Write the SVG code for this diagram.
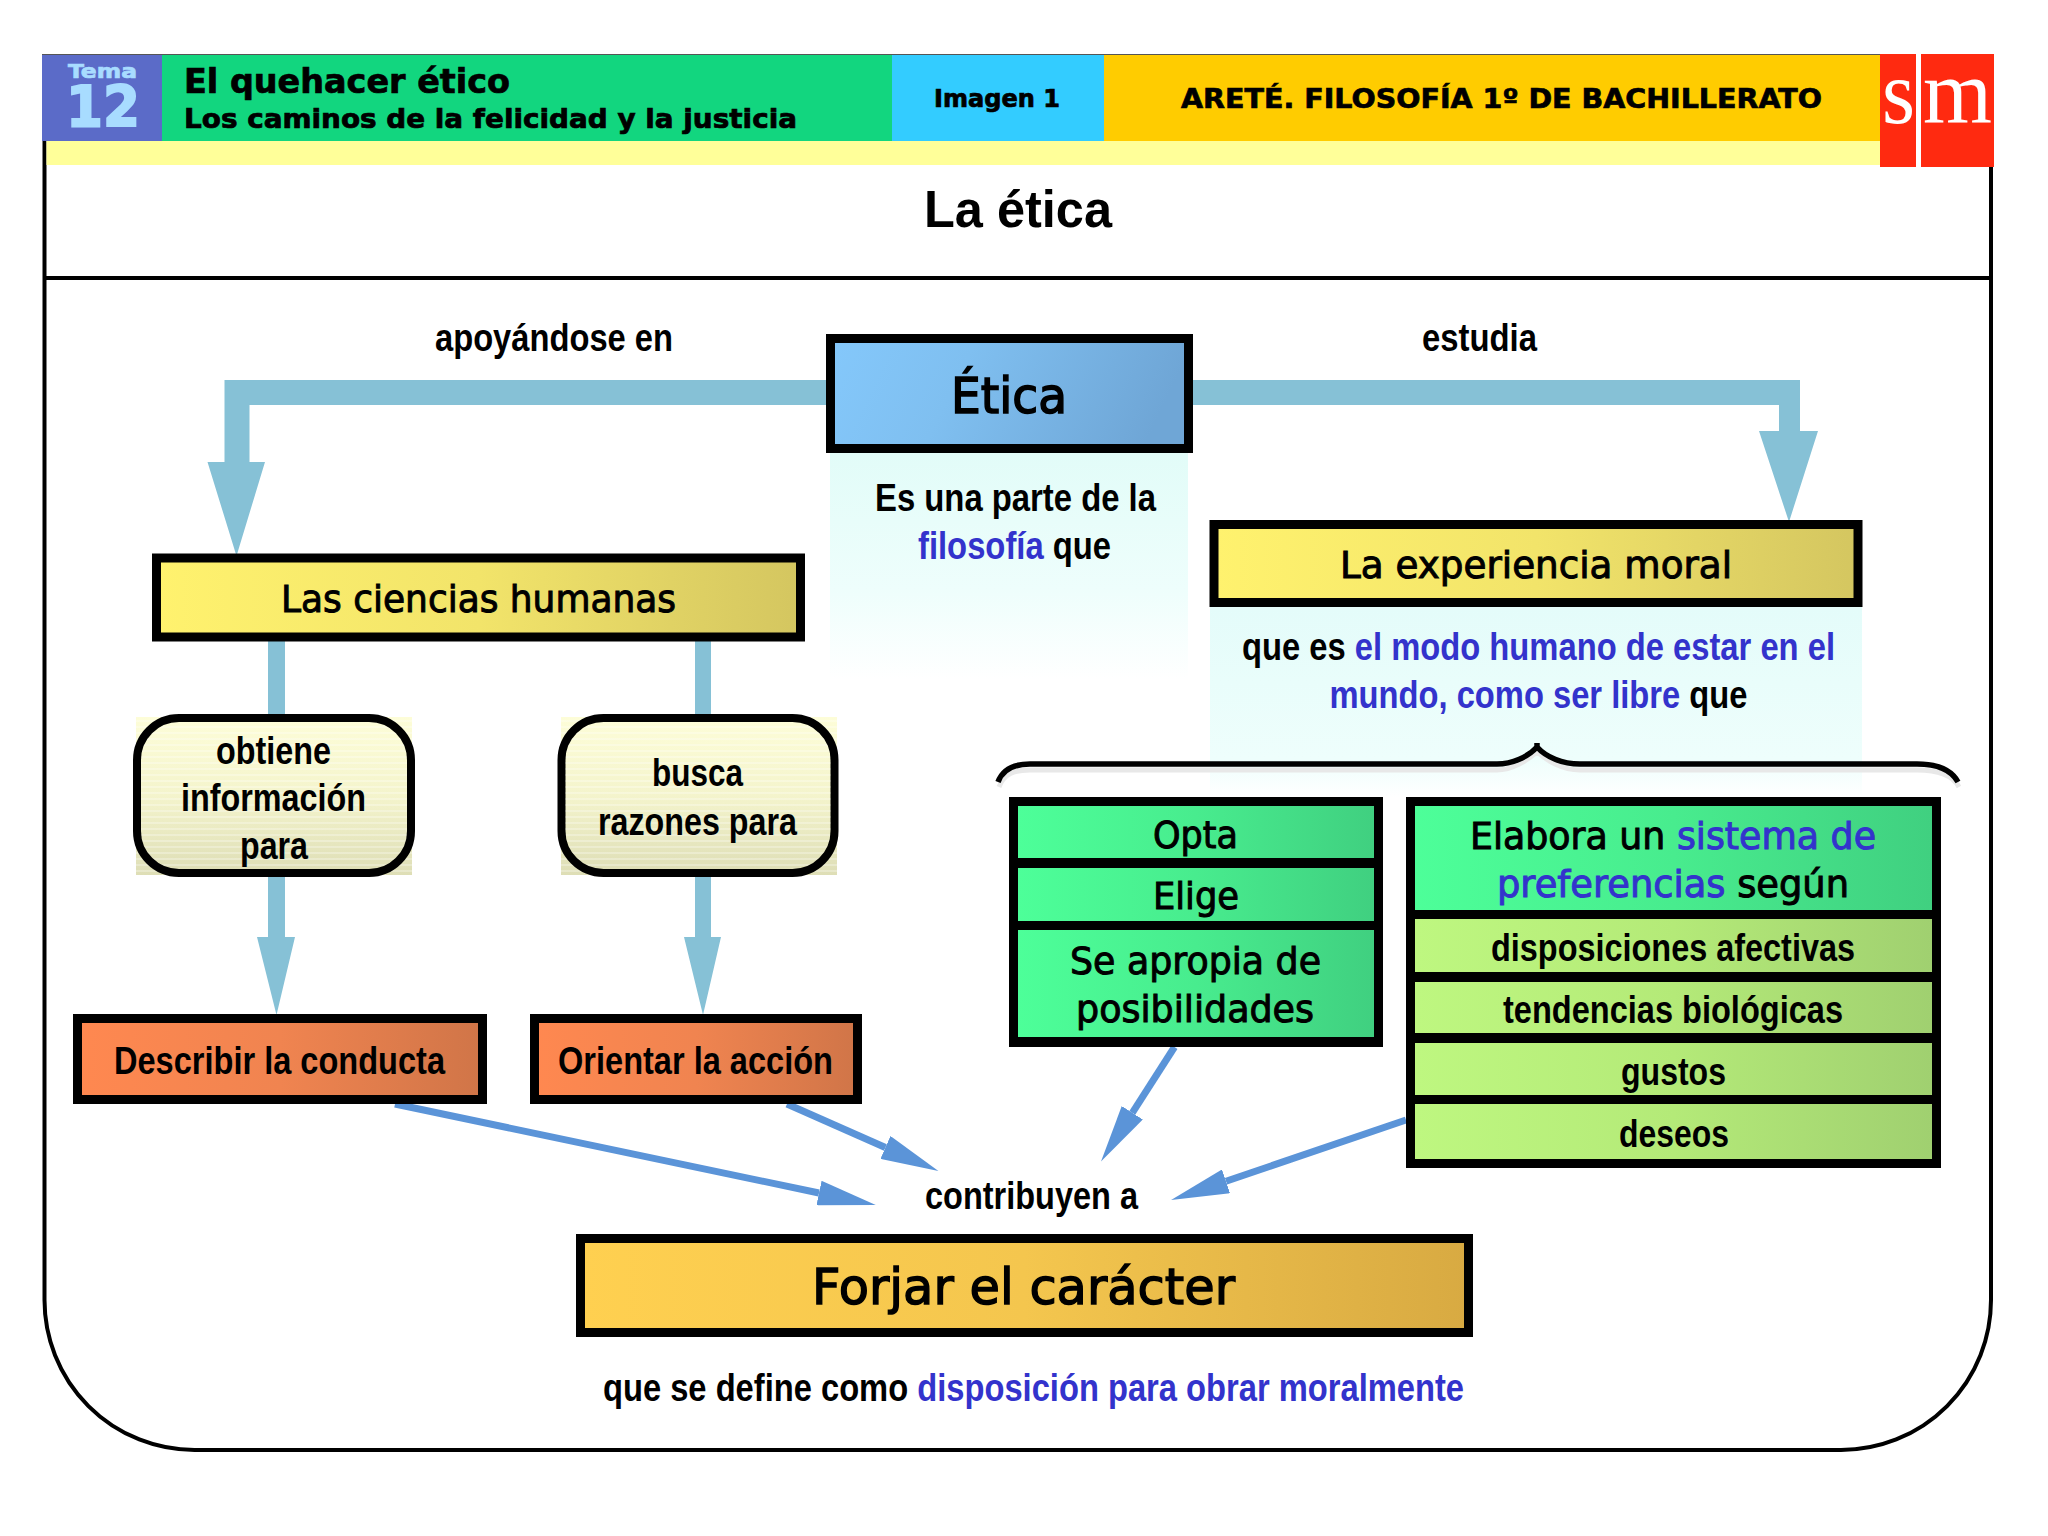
<svg xmlns="http://www.w3.org/2000/svg" width="2048" height="1536" viewBox="0 0 2048 1536">
<style>
text{fill:#000}
.h{font-family:"DejaVu Sans",sans-serif;font-weight:700;stroke:#000;stroke-width:.7}
.b{font-family:"Liberation Sans",Arial,sans-serif;font-weight:700}
.t{font-family:"DejaVu Sans",sans-serif;font-weight:400;stroke:#000;stroke-width:1}
.blue{fill:#3333cc}
.t .blue{stroke:#3333cc}
.box{stroke:#000;stroke-width:9}
.cyan{fill:#86c1d6}
.bl{stroke:#5b94d8;stroke-width:7;fill:none;marker-end:url(#ah)}
</style>
<defs>
<linearGradient id="gE" x1="0" y1="0" x2="1" y2=".15"><stop offset="0" stop-color="#84c8fb"/><stop offset=".4" stop-color="#7fbff0"/><stop offset="1" stop-color="#6fa6d6"/></linearGradient>
<linearGradient id="gY" x1="0" x2="1" y1="0" y2="0"><stop offset="0" stop-color="#fff26e"/><stop offset=".5" stop-color="#f2e46a"/><stop offset="1" stop-color="#d4c660"/></linearGradient>
<linearGradient id="gO" x1="0" x2="1" y1="0" y2="0"><stop offset="0" stop-color="#ff8850"/><stop offset=".5" stop-color="#f08450"/><stop offset="1" stop-color="#d07548"/></linearGradient>
<linearGradient id="gF" x1="0" x2="1" y1="0" y2="0"><stop offset="0" stop-color="#ffd050"/><stop offset=".5" stop-color="#f4c64e"/><stop offset="1" stop-color="#d8aa42"/></linearGradient>
<linearGradient id="gG" x1="0" x2="1" y1="0" y2="0"><stop offset="0" stop-color="#4dff99"/><stop offset=".5" stop-color="#48ec8e"/><stop offset="1" stop-color="#40d080"/></linearGradient>
<linearGradient id="gL" x1="0" x2="1" y1="0" y2="0"><stop offset="0" stop-color="#bef780"/><stop offset=".5" stop-color="#b4ea78"/><stop offset="1" stop-color="#a0d070"/></linearGradient>
<linearGradient id="gC" x1="0" x2="0" y1="0" y2="1"><stop offset="0" stop-color="#fdfdd8"/><stop offset=".5" stop-color="#f4f4cc"/><stop offset="1" stop-color="#dedeb6"/></linearGradient>
<linearGradient id="gP" x1="0" x2="0" y1="0" y2="1"><stop offset="0" stop-color="#e2fcf8"/><stop offset=".6" stop-color="#eefefc"/><stop offset="1" stop-color="#ffffff"/></linearGradient>
<linearGradient id="gQ" x1="0" x2="0" y1="0" y2="1"><stop offset="0" stop-color="#e4fcfa"/><stop offset=".8" stop-color="#eefefc"/><stop offset="1" stop-color="#ffffff"/></linearGradient>
<pattern id="stripes" width="6" height="6" patternUnits="userSpaceOnUse"><rect width="6" height="2" fill="#ffffff" fill-opacity=".28"/></pattern>
<marker id="ah" markerUnits="userSpaceOnUse" markerWidth="58" markerHeight="25" viewBox="0 0 58 25" refX="0" refY="12.5" orient="auto"><path d="M0,0 L58,12.5 L0,25 Z" fill="#5b94d8"/></marker>
</defs>

<g id="frame">
<path d="M44.5,141 V1300 A150,150 0 0 0 194.5,1450 H1841 A150,150 0 0 0 1991,1300 V141" fill="#fff" stroke="#000" stroke-width="4"/>
<line x1="44.5" y1="278" x2="1991" y2="278" stroke="#000" stroke-width="4"/>
</g>

<g id="header">
<rect x="46.5" y="141" width="1833.5" height="24" fill="#ffff99"/>
<rect x="42" y="54" width="1838" height="2" fill="#555"/>
<rect x="42" y="55" width="120" height="86" fill="#5b6bc8"/>
<rect x="162" y="55" width="730" height="86" fill="#12d67f"/>
<rect x="892" y="55" width="212" height="86" fill="#33ccff"/>
<rect x="1104" y="55" width="776" height="86" fill="#ffcc00"/>
<text class="h" x="68" y="78" font-size="20" textLength="69" lengthAdjust="spacingAndGlyphs" style="fill:#a8dcff;stroke:#a8dcff">Tema</text>
<text class="h" x="66" y="127" font-size="57" textLength="74" lengthAdjust="spacingAndGlyphs" style="fill:#a8dcff;stroke:#a8dcff;stroke-width:2">12</text>
<text class="h" x="184" y="92.5" font-size="33" textLength="326" lengthAdjust="spacingAndGlyphs">El quehacer ético</text>
<text class="h" x="184" y="128" font-size="26" textLength="613" lengthAdjust="spacingAndGlyphs">Los caminos de la felicidad y la justicia</text>
<text class="h" x="934" y="107" font-size="24" textLength="126" lengthAdjust="spacingAndGlyphs">Imagen 1</text>
<text class="h" x="1181" y="108" font-size="27" textLength="641" lengthAdjust="spacingAndGlyphs">ARETÉ. FILOSOFÍA 1º DE BACHILLERATO</text>
</g>

<g id="logo">
<rect x="1880" y="54" width="36" height="113" fill="#ff2a10"/>
<rect x="1921" y="54" width="73" height="113" fill="#ff2a10"/>
<text x="1882" y="123" font-family="'Liberation Serif',serif" font-size="92" textLength="33" lengthAdjust="spacingAndGlyphs" style="fill:#fff">s</text>
<text x="1923" y="123" font-family="'Liberation Serif',serif" font-size="92" textLength="69" lengthAdjust="spacingAndGlyphs" style="fill:#fff">m</text>
</g>

<text id="title" class="b" x="924" y="227" font-size="52" textLength="188" lengthAdjust="spacingAndGlyphs">La ética</text>

<g id="panels">
<rect x="830" y="453" width="358" height="227" fill="url(#gP)"/>
<rect x="1210" y="607" width="652" height="190" fill="url(#gQ)"/>
</g>

<g id="connectors">
<polygon class="cyan" points="826,380 224.5,380 224.5,462 207.5,462 236.5,556 265,462 249.5,462 249.5,405 826,405"/>
<polygon class="cyan" points="1193,380 1800,380 1800,431 1818,431 1789,522 1759,431 1779,431 1779,405 1193,405"/>
<rect class="cyan" x="268" y="641" width="17" height="73"/>
<rect class="cyan" x="695" y="641" width="16" height="73"/>
<polygon class="cyan" points="268,877 285,877 285,937 295,937 276.5,1015 257,937 268,937"/>
<polygon class="cyan" points="695,877 711,877 711,937 721,937 703,1015 684,937 695,937"/>
<line class="bl" x1="395" y1="1104" x2="819" y2="1193"/>
<line class="bl" x1="787" y1="1104" x2="885.4" y2="1147.5"/>
<line class="bl" x1="1174.5" y1="1047" x2="1132.3" y2="1112.8"/>
<line class="bl" x1="1406" y1="1120" x2="1226" y2="1181.3"/>
<path d="M999,787 C1004,774 1014,770 1030,770 H1497 C1512,770 1528,760 1537,752 C1546,760 1562,770 1580,770 H1917 C1937,770 1952,774 1959,787" fill="none" stroke="#e8e8e8" stroke-width="5"/>
<path d="M998,782 C1002,771 1012,764 1030,764 H1497 C1512,764 1528,757 1537,747 C1546,757 1562,764 1580,764 H1917 C1938,764 1952,771 1958,782 M1537,743 V749" fill="none" stroke="#000" stroke-width="5.5"/>
</g>

<g id="n-etica">
<rect class="box" x="830.5" y="338.5" width="358" height="110" fill="url(#gE)"/>
<text class="t" x="951" y="413" font-size="50" textLength="116" lengthAdjust="spacingAndGlyphs" style="stroke-width:1.6">Ética</text>
<text class="b" x="875" y="510.5" font-size="38" textLength="281" lengthAdjust="spacingAndGlyphs">Es una parte de la</text>
<text class="b" x="918" y="559" font-size="38" textLength="193" lengthAdjust="spacingAndGlyphs"><tspan class="blue">filosofía</tspan> que</text>
</g>
<text id="l-apoy" class="b" x="435" y="351" font-size="38" textLength="238" lengthAdjust="spacingAndGlyphs">apoyándose en</text>
<text id="l-estudia" class="b" x="1422" y="351" font-size="38" textLength="115" lengthAdjust="spacingAndGlyphs">estudia</text>

<g id="n-ciencias">
<rect class="box" x="156.5" y="558" width="644" height="79" fill="url(#gY)"/>
<text class="t" x="281" y="611.5" font-size="38" textLength="395" lengthAdjust="spacingAndGlyphs">Las ciencias humanas</text>
</g>
<g id="n-experiencia">
<rect class="box" x="1214" y="524.5" width="644" height="78" fill="url(#gY)"/>
<text class="t" x="1340" y="577.5" font-size="38" textLength="392" lengthAdjust="spacingAndGlyphs">La experiencia moral</text>
<text class="b" x="1242" y="659.5" font-size="38" textLength="593" lengthAdjust="spacingAndGlyphs">que es <tspan class="blue">el modo humano de estar en el</tspan></text>
<text class="b" x="1329.5" y="708" font-size="38" textLength="418" lengthAdjust="spacingAndGlyphs"><tspan class="blue">mundo, como ser libre</tspan> que</text>
</g>

<g id="n-obtiene">
<rect x="136" y="717" width="276" height="158" fill="url(#gC)"/>
<rect x="136" y="717" width="276" height="158" fill="url(#stripes)"/>
<rect x="137" y="718" width="274" height="155" rx="42" fill="url(#gC)" stroke="#000" stroke-width="8"/>
<rect x="141" y="722" width="266" height="147" rx="38" fill="url(#stripes)"/>
<text class="b" x="216" y="763.5" font-size="38" textLength="115" lengthAdjust="spacingAndGlyphs">obtiene</text>
<text class="b" x="181" y="811" font-size="38" textLength="185" lengthAdjust="spacingAndGlyphs">información</text>
<text class="b" x="240" y="859" font-size="38" textLength="68" lengthAdjust="spacingAndGlyphs">para</text>
</g>
<g id="n-busca">
<rect x="561" y="717" width="276" height="158" fill="url(#gC)"/>
<rect x="561" y="717" width="276" height="158" fill="url(#stripes)"/>
<rect x="561.5" y="718" width="273" height="155" rx="42" fill="url(#gC)" stroke="#000" stroke-width="8"/>
<rect x="565.5" y="722" width="265" height="147" rx="38" fill="url(#stripes)"/>
<text class="b" x="652" y="786" font-size="38" textLength="91" lengthAdjust="spacingAndGlyphs">busca</text>
<text class="b" x="598" y="835" font-size="38" textLength="199" lengthAdjust="spacingAndGlyphs">razones para</text>
</g>

<g id="n-describir">
<rect class="box" x="77.5" y="1018.5" width="405" height="81" fill="url(#gO)"/>
<text class="b" x="114" y="1073.5" font-size="38" textLength="331" lengthAdjust="spacingAndGlyphs">Describir la conducta</text>
</g>
<g id="n-orientar">
<rect class="box" x="534.5" y="1018.5" width="323" height="81" fill="url(#gO)"/>
<text class="b" x="558" y="1073.5" font-size="38" textLength="275" lengthAdjust="spacingAndGlyphs">Orientar la acción</text>
</g>

<g id="n-opciones">
<rect x="1009" y="797" width="374" height="250" fill="#000"/>
<rect x="1018" y="806" width="356" height="52" fill="url(#gG)"/>
<rect x="1018" y="868" width="356" height="53" fill="url(#gG)"/>
<rect x="1018" y="930" width="356" height="107" fill="url(#gG)"/>
<text class="t" x="1153" y="848" font-size="38" textLength="85" lengthAdjust="spacingAndGlyphs">Opta</text>
<text class="t" x="1153" y="909" font-size="38" textLength="86" lengthAdjust="spacingAndGlyphs">Elige</text>
<text class="t" x="1070" y="974" font-size="38" textLength="251" lengthAdjust="spacingAndGlyphs">Se apropia de</text>
<text class="t" x="1076" y="1021.5" font-size="38" textLength="238" lengthAdjust="spacingAndGlyphs">posibilidades</text>
</g>

<g id="n-sistema">
<rect x="1406" y="797" width="535" height="371" fill="#000"/>
<rect x="1415" y="806" width="517" height="104" fill="url(#gG)"/>
<rect x="1415" y="919" width="517" height="53" fill="url(#gL)"/>
<rect x="1415" y="982" width="517" height="51" fill="url(#gL)"/>
<rect x="1415" y="1043" width="517" height="52" fill="url(#gL)"/>
<rect x="1415" y="1104" width="517" height="55" fill="url(#gL)"/>
<text class="t" x="1470" y="849" font-size="38" textLength="406" lengthAdjust="spacingAndGlyphs">Elabora un <tspan class="blue">sistema de</tspan></text>
<text class="t" x="1497" y="897" font-size="38" textLength="352" lengthAdjust="spacingAndGlyphs"><tspan class="blue">preferencias</tspan> según</text>
<text class="b" x="1491" y="960.5" font-size="38" textLength="364" lengthAdjust="spacingAndGlyphs">disposiciones afectivas</text>
<text class="b" x="1503" y="1023" font-size="38" textLength="340" lengthAdjust="spacingAndGlyphs">tendencias biológicas</text>
<text class="b" x="1621" y="1084.5" font-size="38" textLength="105" lengthAdjust="spacingAndGlyphs">gustos</text>
<text class="b" x="1619" y="1146.5" font-size="38" textLength="110" lengthAdjust="spacingAndGlyphs">deseos</text>
</g>

<text id="l-contribuyen" class="b" x="925" y="1209" font-size="38" textLength="213" lengthAdjust="spacingAndGlyphs">contribuyen a</text>

<g id="n-forjar">
<rect class="box" x="580.5" y="1238.5" width="888" height="94" fill="url(#gF)"/>
<text class="t" x="812" y="1304" font-size="50" textLength="423" lengthAdjust="spacingAndGlyphs" style="stroke-width:1.4">Forjar el carácter</text>
<text class="b" x="603" y="1401" font-size="38" textLength="861" lengthAdjust="spacingAndGlyphs">que se define como <tspan class="blue">disposición para obrar moralmente</tspan></text>
</g>
</svg>
